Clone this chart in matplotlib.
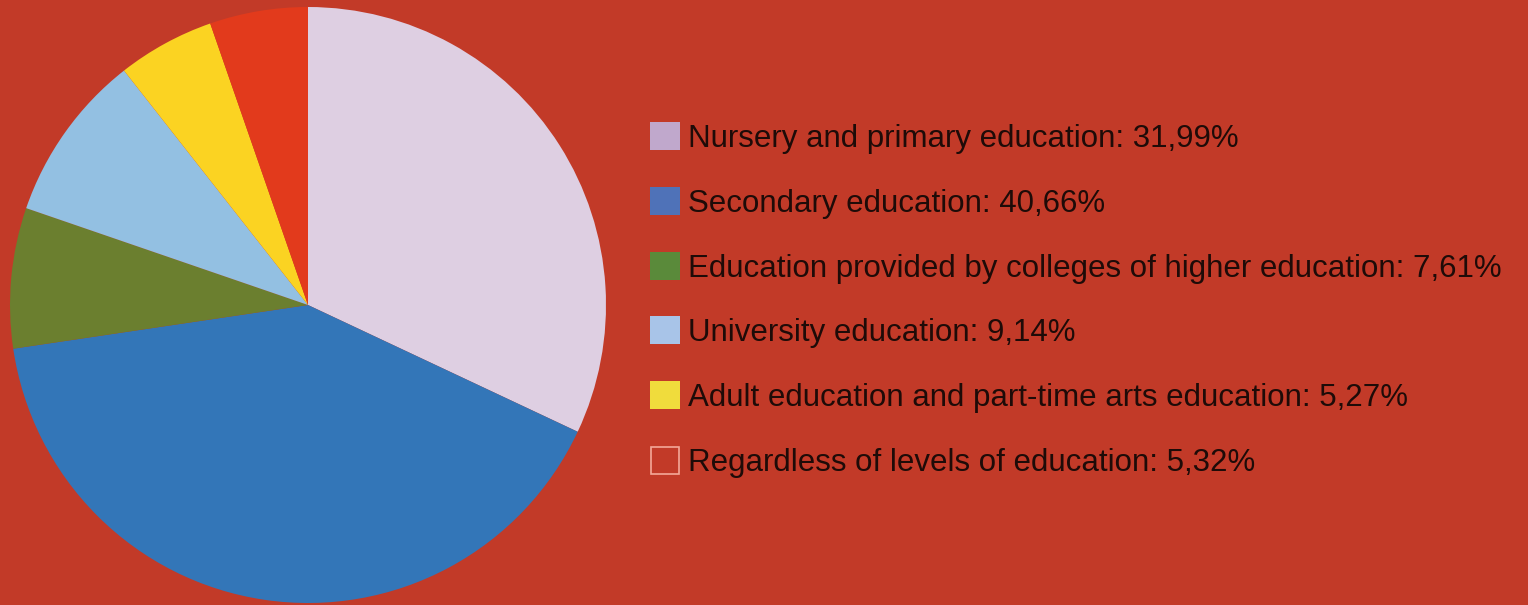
import matplotlib
matplotlib.use("Agg")
import matplotlib.pyplot as plt
from matplotlib.patches import Rectangle

labels = ["Nursery and primary education",
          "Secondary education",
          "Education provided by colleges of higher education",
          "University education",
          "Adult education and part-time arts education",
          "Regardless of levels of education"]
values = [31.99, 40.66, 7.61, 9.14, 5.27, 5.32]
value_text = ["31,99%", "40,66%", "7,61%", "9,14%", "5,27%", "5,32%"]
pie_colors = ["#decfe2", "#3376b8", "#6b7f2f", "#93c0e2", "#fbd322", "#e23a1c"]
legend_colors = ["#c0a8cc", "#4f72b8", "#5a8a3a", "#a8c4e8", "#f0dc3c", "none"]

BG = "#c23a28"
W, H = 1528, 605
fig = plt.figure(figsize=(W / 100, H / 100), dpi=100, facecolor=BG)

cx, cy, r = 308, 305, 298
ax = fig.add_axes([(cx - r) / W, (H - cy - r) / H, 2 * r / W, 2 * r / H])
ax.set_facecolor(BG)
ax.pie(values, colors=pie_colors, startangle=90, counterclock=False,
       radius=1.0, wedgeprops=dict(linewidth=0))
ax.set_xlim(-1, 1)
ax.set_ylim(-1, 1)
ax.set_aspect("auto")
ax.axis("off")

lax = fig.add_axes([0, 0, 1, 1])
lax.set_xlim(0, W)
lax.set_ylim(H, 0)
lax.axis("off")

baselines = [147, 212, 277, 341, 406, 471]
for i, (lab, vt) in enumerate(zip(labels, value_text)):
    b = baselines[i]
    if legend_colors[i] == "none":
        lax.add_patch(Rectangle((651, b - 24), 28, 27, facecolor="none",
                                edgecolor="#f4a898", linewidth=1.2))
    else:
        lax.add_patch(Rectangle((650, b - 25), 30, 28, facecolor=legend_colors[i],
                                edgecolor="none"))
    lax.text(688, b, f"{lab}: {vt}", fontsize=22.5, family="Liberation Sans",
             color="#1e0b08", va="baseline", ha="left")

fig.savefig("out.png", dpi=100, facecolor=BG)
